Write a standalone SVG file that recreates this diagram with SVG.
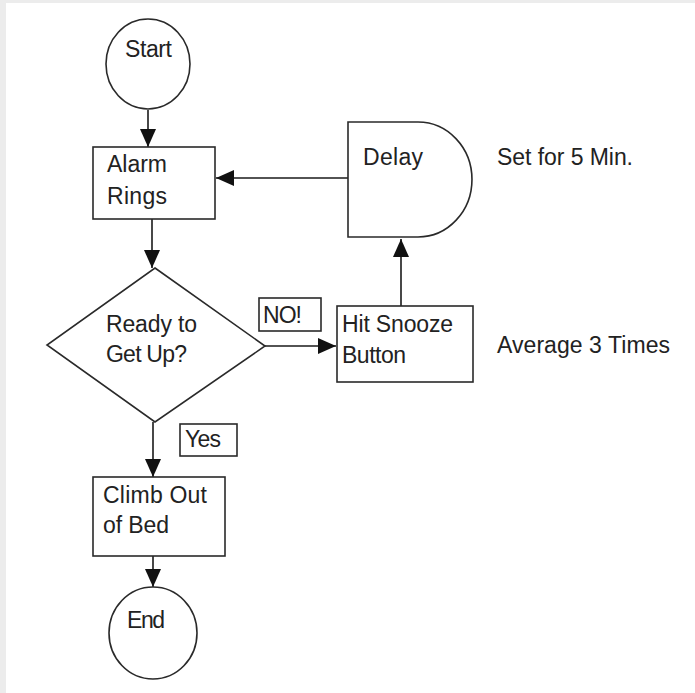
<svg xmlns="http://www.w3.org/2000/svg" width="695" height="693" viewBox="0 0 695 693">
<defs>
<style>
.bg{fill:#ececec}
.paper{fill:#ffffff}
.shape{fill:#ffffff;stroke:#2a2a2a;stroke-width:1.6}
.lbl{fill:#ffffff;stroke:#2a2a2a;stroke-width:1.6}
.conn{fill:none;stroke:#1a1a1a;stroke-width:1.6}
text{font-family:"Liberation Sans",Arial,sans-serif;font-size:23px;fill:#222}
</style>
<marker id="ah" markerUnits="userSpaceOnUse" markerWidth="18" markerHeight="16" refX="18" refY="8" orient="auto">
<path d="M0,0 L18,8 L0,16 Z" fill="#111"/>
</marker>
</defs>
<rect class="bg" x="0" y="0" width="695" height="693"/>
<rect class="paper" x="6" y="3" width="689" height="690"/>

<g id="connectors">
<line class="conn" x1="148" y1="110" x2="148" y2="147" marker-end="url(#ah)"/>
<line class="conn" x1="152" y1="219" x2="152" y2="268" marker-end="url(#ah)"/>
<line class="conn" x1="265" y1="346" x2="336" y2="346" marker-end="url(#ah)"/>
<line class="conn" x1="401" y1="306" x2="401" y2="239" marker-end="url(#ah)"/>
<line class="conn" x1="348" y1="178" x2="216" y2="178" marker-end="url(#ah)"/>
<line class="conn" x1="153" y1="422" x2="153" y2="477" marker-end="url(#ah)"/>
<line class="conn" x1="153" y1="556" x2="153" y2="587" marker-end="url(#ah)"/>
</g>

<g id="start">
<ellipse class="shape" cx="148" cy="64" rx="42" ry="45"/>
<text x="125" y="57" textLength="47">Start</text>
</g>

<g id="alarm">
<rect class="shape" x="93" y="147" width="122" height="72"/>
<text x="107" y="172" textLength="60">Alarm</text>
<text x="107" y="204" textLength="60">Rings</text>
</g>

<g id="delay">
<path class="shape" d="M348,122 H418 A54,57.5 0 0 1 418,237 H348 Z"/>
<text x="363" y="165" textLength="60">Delay</text>
</g>
<g id="delay-note">
<text x="497" y="165" textLength="136">Set for 5 Min.</text>
</g>

<g id="decision">
<polygon class="shape" points="155,268 265,346 155,422 47,345"/>
<text x="106" y="332" textLength="91">Ready to</text>
<text x="106" y="362" textLength="81">Get Up?</text>
</g>

<g id="no-label">
<rect class="lbl" x="259" y="298" width="62" height="33"/>
<text x="263" y="323" textLength="39">NO!</text>
</g>

<g id="snooze">
<rect class="shape" x="337" y="306" width="136" height="76"/>
<text x="342" y="332" textLength="111">Hit Snooze</text>
<text x="342" y="363" textLength="64">Button</text>
</g>
<g id="snooze-note">
<text x="497" y="353" textLength="173">Average 3 Times</text>
</g>

<g id="yes-label">
<rect class="lbl" x="180" y="424" width="57" height="32"/>
<text x="185" y="447" textLength="36">Yes</text>
</g>

<g id="climb">
<rect class="shape" x="93" y="477" width="132" height="79"/>
<text x="103" y="503" textLength="104">Climb Out</text>
<text x="103" y="533" textLength="66">of Bed</text>
</g>

<g id="end">
<ellipse class="shape" cx="153" cy="633" rx="44" ry="46"/>
<text x="127" y="628" textLength="38">End</text>
</g>
</svg>
